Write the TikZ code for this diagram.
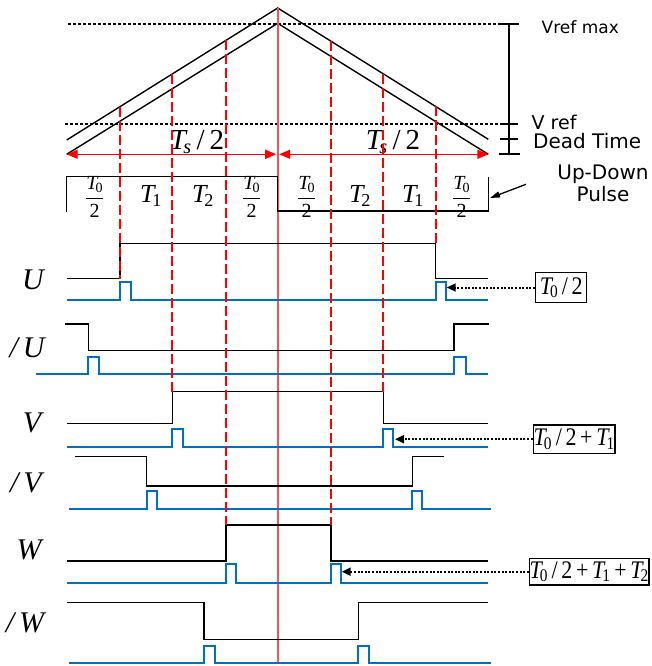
\documentclass[tikz,border=0pt]{standalone}
\usepackage{fontspec}
\setmainfont{Liberation Serif}
\newfontfamily\labelsans{DejaVu Sans}
\usetikzlibrary{arrows.meta}
\definecolor{sigblue}{RGB}{0,112,192}
\definecolor{midred}{RGB}{240,85,95}

% italic T with an upright subscript
\newcommand\Tx[1]{{\itshape T}\kern-0.09em\textsubscript{#1}}
\newcommand\halfTo{\(\displaystyle\frac{\mbox{\Tx{0}}}{\mbox{2}}\)}

\tikzset{
  level/.style={black, line width=1.3pt, line join=miter},
  edgepulse/.style={sigblue, line width=1.8pt, line join=miter},
  carrier/.style={black, line width=1.4pt},
  refline/.style={black, line width=1.4pt, dash pattern=on 3pt off 2pt},
  sectline/.style={red, line width=1.6pt, dash pattern=on 10pt off 4pt},
  halfper/.style={red, line width=1.4pt, {Triangle[length=11pt,width=9pt]}-{Triangle[length=11pt,width=9pt]}},
  siglabel/.style={font=\fontsize{30}{32}\selectfont\itshape, inner sep=0pt},
  seglabel/.style={font=\fontsize{26}{28}\selectfont, inner sep=0pt},
  fraclabel/.style={font=\fontsize{20}{22}\selectfont, inner sep=0pt},
  sanslabel/.style={inner sep=0pt},
  timebox/.style={draw, line width=1.4pt, inner sep=0pt, font=\fontsize{22}{24}\selectfont},
  pointer/.style={black, line width=2pt, dash pattern=on 2pt off 1.6pt, -{Triangle[length=9pt,width=8pt]}},
}

\begin{document}
\begin{tikzpicture}[x=1pt, y=-1pt]
\useasboundingbox (0,0) rectangle (652,666);

% ---- carriers (shifted by the dead time) ----
\draw[carrier] (66.7,140) -- (277.7,8) -- (488.3,139.3);
\draw[carrier] (66.7,154.3) -- (277.7,23.3) -- (488.3,154.3);

% ---- reference levels ----
\draw[refline] (68,24) -- (500,24);
\draw[refline] (65,124) -- (502,124);

% ---- level scale on the right ----
\draw[black, line width=1.8pt] (509,24) -- (509,154.3);
\draw[black, line width=1.8pt] (499,24) -- (519,24);
\draw[black, line width=1.8pt] (500,124) -- (518,124);
\draw[black, line width=1.8pt] (500,139.3) -- (518,139.3);
\draw[black, line width=1.8pt] (499,154.3) -- (520,154.3);
\node[sanslabel, anchor=west, font=\labelsans\fontsize{17}{18}\selectfont] (vmax) at (541.5,27) {Vref max};
\node[sanslabel, anchor=west, font=\labelsans\fontsize{19}{20}\selectfont] (vref) at (531.5,122.5) {V ref};
\node[sanslabel, anchor=west, font=\labelsans\fontsize{20}{21}\selectfont] (dead) at (533,141.5) {Dead Time};

% ---- centre of the period ----
\draw[midred, line width=1.7pt] (277.7,8) -- (277.7,662.7);

% ---- half period arrows ----
\coordinate (hl) at (66.7,154.3);
\coordinate (hc) at (277.7,154.3);
\coordinate (hr) at (488.3,154.3);
\draw[halfper] (hl) -- ([xshift=-1.5pt]hc);
\draw[halfper] ([xshift=1.5pt]hc) -- (hr);
\node[font=\fontsize{29}{30}\selectfont, inner sep=0pt] (tsl) at (197,142) {\Tx{\itshape s}\,/\,2};
\node[font=\fontsize{29}{30}\selectfont, inner sep=0pt] (tsr) at (393,142) {\Tx{\itshape s}\,/\,2};

% ---- up-down pulse ----
\draw[black, line width=1.5pt, line join=miter]
  (66.7,212) -- (66.7,176.7) -- (277.7,176.7) -- (277.7,211) -- (488.3,211) -- (488.3,176.7);
\node[fraclabel] (a1) at (94.7,197) {\halfTo};
\node[seglabel] (a2) at (151,196) {\Tx{1}};
\node[seglabel] (a3) at (203,196) {\Tx{2}};
\node[fraclabel] (a4) at (251.7,197) {\halfTo};
\node[fraclabel] (b1) at (306.7,197) {\halfTo};
\node[seglabel] (b2) at (360,196) {\Tx{2}};
\node[seglabel] (b3) at (413,196) {\Tx{1}};
\node[fraclabel] (b4) at (461.7,197) {\halfTo};

\node[sanslabel, anchor=north, align=center, font=\labelsans\fontsize{20}{22}\selectfont] (updown) at (603,165) {Up-Down\\Pulse};
\coordinate (udtail) at (526,184.3);
\coordinate (udhead) at (490,198);
\draw[black, line width=1.3pt, -{Triangle[length=10pt,width=6pt]}] (udtail) -- (udhead);

% ---- gate signals ----
\node[siglabel] (lU)  at (33,280) {U};
\node[siglabel] (lnU) at (27,348) {/\,U};
\node[siglabel] (lV)  at (32,423) {V};
\node[siglabel] (lnV) at (26,483) {/\,V};
\node[siglabel] (lW)  at (29,550) {W};
\node[siglabel] (lnW) at (25,623) {/\,W};

% U
\draw[level] (66.7,278.3) -- (120,278.3) -- (120,243.3) -- (435.7,243.3) -- (435.7,278.3) -- (488.3,278.3);
\draw[edgepulse] (66.7,300) -- (120,300) -- (120,281.7) -- (130.7,281.7) -- (130.7,300)
  -- (435.7,300) -- (435.7,281.7) -- (446.2,281.7) -- (446.2,300) -- (488.3,300);
% /U
\draw[level] (65,324) -- (88.3,324) -- (88.3,350.7) -- (454,350.7) -- (454,324) -- (489,324);
\draw[edgepulse] (36,374) -- (88.3,374) -- (88.3,356.7) -- (99,356.7) -- (99,374)
  -- (454,374) -- (454,356.7) -- (466,356.7) -- (466,374) -- (488.3,374);
% V
\draw[level] (66.7,423.3) -- (172.3,423.3) -- (172.3,391.7) -- (383.3,391.7) -- (383.3,423.3) -- (488.3,423.3);
\draw[edgepulse] (66.7,446.7) -- (172.3,446.7) -- (172.3,429.3) -- (182.7,429.3) -- (182.7,446.7)
  -- (383.3,446.7) -- (383.3,429.3) -- (393.3,429.3) -- (393.3,446.7) -- (488.3,446.7);
% /V
\draw[level] (75,456.7) -- (146.7,456.7) -- (146.7,486) -- (412.3,486) -- (412.3,456.7) -- (444,456.7);
\draw[edgepulse] (69.3,509) -- (146.7,509) -- (146.7,490.7) -- (156.7,490.7) -- (156.7,509)
  -- (412.3,509) -- (412.3,490.7) -- (422,490.7) -- (422,509) -- (490.7,509);
% W
\draw[level] (66.7,561) -- (226,561) -- (226,525) -- (331,525) -- (331,561) -- (488.3,561);
\draw[edgepulse] (66.7,582.7) -- (226,582.7) -- (226,564.3) -- (236.3,564.3) -- (236.3,582.7)
  -- (331,582.7) -- (331,564.3) -- (341,564.3) -- (341,582.7) -- (488.3,582.7);
% /W
\draw[level] (66.7,602.7) -- (204,602.7) -- (204,639.3) -- (358.3,639.3) -- (358.3,602.7) -- (488.3,602.7);
\draw[edgepulse] (69.3,662.7) -- (204,662.7) -- (204,645.7) -- (215,645.7) -- (215,662.7)
  -- (358.3,662.7) -- (358.3,645.7) -- (369.3,645.7) -- (369.3,662.7) -- (490.7,662.7);

% ---- switching instants ----
\draw[sectline] (120,107) -- (120,279);
\draw[sectline] (172,74) -- (172,391.7);
\draw[sectline] (226,40.3) -- (226,525);
\draw[sectline] (331,41.2) -- (331,525);
\draw[sectline] (383,73.9) -- (383,391.7);
\draw[sectline] (435.7,106.5) -- (435.7,243.3);

% ---- timing annotations ----
\node[timebox, minimum width=51pt, minimum height=30pt] (k1) at (561.2,287.5)
  {\scalebox{1}[1.15]{\Tx{0}\,/\,2}};
\node[timebox, minimum width=81.7pt, minimum height=28.3pt] (k2) at (574.2,439.2)
  {\scalebox{1}[1.15]{\Tx{0}\,/\,2\,+\,\Tx{1}}};
\node[timebox, minimum width=115pt, minimum height=26.7pt] (k3) at (589.2,571.7)
  {\scalebox{1}[1.15]{\Tx{0}\,/\,2\,+\,\Tx{1}\,+\,\Tx{2}}};
\coordinate (p1) at (446.7,287.5);
\coordinate (p2) at (395,439.2);
\coordinate (p3) at (341.7,571.7);
\draw[pointer] (k1.west) -- (p1);
\draw[pointer] (k2.west) -- (p2);
\draw[pointer] (k3.west) -- (p3);
\end{tikzpicture}
\end{document}
